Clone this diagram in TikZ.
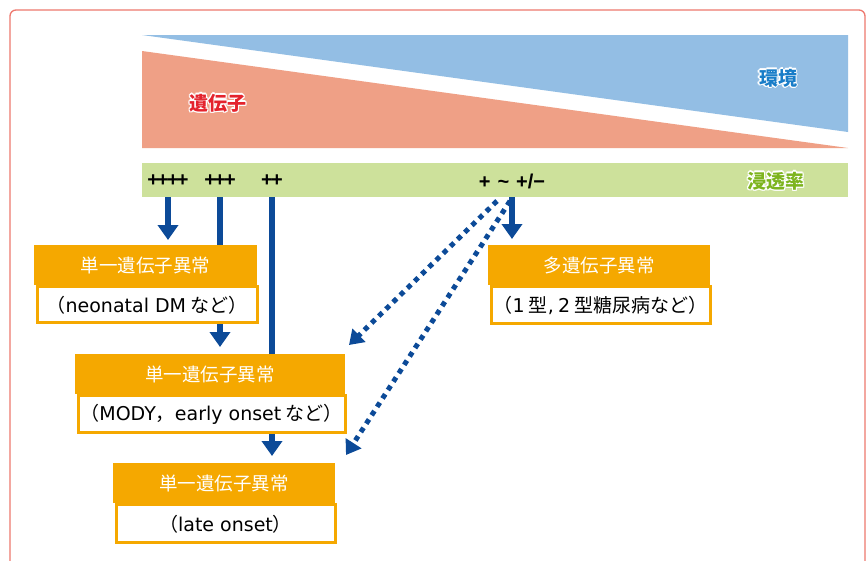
\documentclass[tikz,border=0pt]{standalone}
\usepackage{fontspec}
\setmainfont{Noto Sans CJK JP}
\newfontfamily\lat{DejaVu Sans}
\newfontfamily\plusfont{Liberation Sans}
\usetikzlibrary{arrows.meta,calc}
\definecolor{blueTri}{RGB}{147,190,228}
\definecolor{redTri}{RGB}{239,160,134}
\definecolor{bandc}{RGB}{205,225,155}
\definecolor{orng}{RGB}{245,168,0}
\definecolor{arrb}{RGB}{12,74,152}
\definecolor{framec}{RGB}{238,120,110}
\definecolor{gtxt}{RGB}{228,35,45}
\definecolor{envtxt}{RGB}{25,125,200}
\definecolor{pentxt}{RGB}{125,180,30}
\newcommand\halo[2]{\leavevmode
 \rlap{\color{white}\hspace*{-1.3pt}#2}%
 \rlap{\color{white}\hspace*{1.3pt}#2}%
 \rlap{\color{white}\raisebox{1.3pt}{#2}}%
 \rlap{\color{white}\raisebox{-1.3pt}{#2}}%
 \rlap{\color{white}\hspace*{-0.9pt}\raisebox{0.9pt}{#2}}%
 \rlap{\color{white}\hspace*{0.9pt}\raisebox{0.9pt}{#2}}%
 \rlap{\color{white}\hspace*{-0.9pt}\raisebox{-0.9pt}{#2}}%
 \rlap{\color{white}\hspace*{0.9pt}\raisebox{-0.9pt}{#2}}%
 {\color{#1}#2}}
\newcommand\pk{\kern-1.8pt}
\tikzset{
 biglab/.style={font=\fontsize{19}{22}\selectfont\bfseries, inner sep=0},
 plus/.style={font=\plusfont\fontsize{20}{22}\selectfont\bfseries, inner sep=0, text=black},
 hdr/.style={fill=orng, text=white, font=\fontsize{18.5}{22}\selectfont, inner sep=0, anchor=north west, minimum height=40},
 bodyb/.style={fill=white, draw=orng, line width=3pt, text=black, font=\fontsize{19}{22}\selectfont, inner sep=0, anchor=north west},
 arr/.style={draw=arrb, line width=6pt, -{Triangle[width=20pt,length=15pt]}},
 darr/.style={draw=arrb, line width=5pt, dash pattern=on 5pt off 5pt, -{Triangle[width=18pt,length=14pt]}}
}
\begin{document}
\begin{tikzpicture}[x=1pt,y=-1pt]
\useasboundingbox (0,0) rectangle (868,560);
\clip (0,0) rectangle (868,560);
\fill[white] (0,0) rectangle (868,560);
\draw[framec, line width=1.3pt, rounded corners=6pt] (10,10) rectangle (865,600);
% triangles
\fill[blueTri] (142,35) -- (848,35) -- (848,132) -- cycle;
\fill[redTri] (142,51) -- (848,148) -- (142,148) -- cycle;
\node[biglab] (gene) at (218,103) {\halo{gtxt}{遺伝子}};
\node[biglab] (env) at (778,78) {\halo{envtxt}{環境}};
% band
\node[fill=bandc, minimum width=706, minimum height=34, anchor=north west, inner sep=0] (band) at (142,163) {};
\node[biglab] (pen) at (776,181) {\halo{pentxt}{浸透率}};
\node[plus] (l4) at (168,181) {+\pk+\pk+\pk+};
\node[plus] (l3) at (220,181) {+\pk+\pk+};
\node[plus] (l2) at (272,181) {+\pk+};
\node[plus] (l1) at (512,181) {+\hspace{7pt}\char"7E\hspace{7pt}+/−};
% solid arrows (behind boxes)
\coordinate (h1top) at (34,245);
\coordinate (h2top) at (75,354);
\coordinate (h3top) at (113,463);
\coordinate (h4top) at (488,245);
\draw[arr, shorten >=5pt] (l4 |- band.south) -- (l4 |- h1top);
\draw[arr, shorten >=7pt] (l3 |- band.south) -- (l3 |- h2top);
\draw[arr, shorten >=7pt] (l2 |- band.south) -- (l2 |- h3top);
\draw[arr, shorten >=6pt] (l1 |- band.south) -- (l1 |- h4top);
% boxes
\node[hdr, minimum width=223] (h1) at (h1top) {単一遺伝子異常};
\node[bodyb, minimum width=220, minimum height=36] (b1) at ($(h1.south west)+(1.5,0)$) {（{\lat neonatal DM} など）};
\node[hdr, minimum width=270] (h2) at (h2top) {単一遺伝子異常};
\node[bodyb, minimum width=267, minimum height=37] (b2) at ($(h2.south west)+(1.5,0)$) {（{\lat MODY}，{\lat early onset} など）};
\node[hdr, minimum width=222] (h3) at (h3top) {単一遺伝子異常};
\node[bodyb, minimum width=219, minimum height=38] (b3) at ($(h3.south west)+(1.5,0)$) {（{\lat late onset}）};
\node[hdr, minimum width=222] (h4) at (h4top) {多遺伝子異常};
\node[bodyb, minimum width=219, minimum height=37] (b4) at ($(h4.south west)+(1.5,0)$) {（{\lat 1} 型{\lat ,} {\lat 2} 型糖尿病など）};
% dotted arrows
\coordinate (s1) at (497,201);
\coordinate (s2) at (510,201);
\coordinate (e1) at (349,345);
\coordinate (e2) at (346,455);
\draw[darr] (s1) -- (e1);
\draw[darr] (s2) -- (e2);
\end{tikzpicture}
\end{document}
